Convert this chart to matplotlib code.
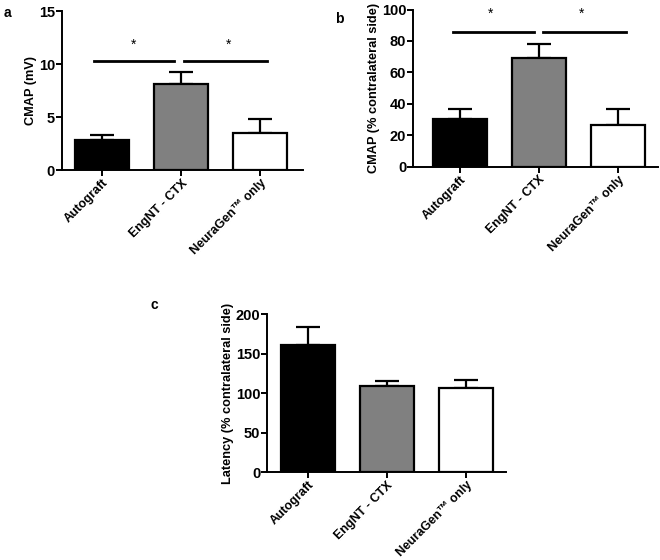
import matplotlib
matplotlib.use('Agg')
import matplotlib.pyplot as plt

plt.rcParams['font.family'] = ['Liberation Sans', 'DejaVu Sans']
plt.rcParams['font.weight'] = 'bold'

groups = ['Autograft', 'EngNT - CTX', 'NeuraGen\u2122 only']
colors = ['black', 'gray', 'white']

cmap_mv = [2.83, 8.11, 3.55]
cmap_mv_err = [0.54, 1.14, 1.32]

cmap_pct = [30.5, 69.5, 26.5]
cmap_pct_err = [6.4, 8.6, 10.4]

latency_pct = [161, 108.4, 106.3]
latency_pct_err = [22.5, 6.8, 10.5]

fig = plt.figure(figsize=(6.6, 5.6), dpi=100)


def bar_panel(rect, vals, errs, ylabel, ylim, yticks, xlim):
    ax = fig.add_axes(rect)
    x = range(len(vals))
    ax.bar(x, vals, width=0.68, color=colors, edgecolor='black', linewidth=1.6, zorder=2)
    ax.errorbar(x, vals, yerr=[[0] * len(errs), errs], fmt='none', ecolor='black',
                elinewidth=1.6, capsize=8.5, capthick=1.6, zorder=1)
    ax.set_xlim(*xlim)
    ax.set_ylim(*ylim)
    ax.set_yticks(yticks)
    ax.set_xticks(list(x))
    ax.set_xticklabels(groups, rotation=45, ha='right', rotation_mode='anchor', fontsize=9)
    ax.set_ylabel(ylabel, fontsize=9.2, fontweight='bold', labelpad=1)
    for s in ['top', 'right']:
        ax.spines[s].set_visible(False)
    for s in ['left', 'bottom']:
        ax.spines[s].set_linewidth(1.4)
    ax.tick_params(width=1.4, length=4, pad=1)
    ax.tick_params(axis='y', labelsize=10.5)
    return ax


# a
ax_a = bar_panel([0.094, 0.696, 0.365, 0.284], cmap_mv, cmap_mv_err, 'CMAP (mV)',
                 (0, 15), [0, 5, 10, 15], (-0.51, 2.54))
ax_a.plot([-0.11, 0.91], [10.3, 10.3], color='black', lw=2, clip_on=False)
ax_a.plot([1.03, 2.09], [10.3, 10.3], color='black', lw=2, clip_on=False)
ax_a.text(0.39, 11.8, '*', ha='center', va='center', fontsize=10, fontweight='normal')
ax_a.text(1.6, 11.8, '*', ha='center', va='center', fontsize=10, fontweight='normal')

# b
ax_b = bar_panel([0.626, 0.702, 0.371, 0.281], cmap_pct, cmap_pct_err, 'CMAP (% contralateral side)',
                 (0, 100), [0, 20, 40, 60, 80, 100], (-0.59, 2.51))
ax_b.plot([-0.08, 0.94], [85.4, 85.4], color='black', lw=2, clip_on=False)
ax_b.plot([1.05, 2.1], [85.4, 85.4], color='black', lw=2, clip_on=False)
ax_b.text(0.39, 97, '*', ha='center', va='center', fontsize=10, fontweight='normal')
ax_b.text(1.54, 97, '*', ha='center', va='center', fontsize=10, fontweight='normal')

# c
ax_c = bar_panel([0.405, 0.157, 0.362, 0.282], latency_pct, latency_pct_err,
                 'Latency (% contralateral side)', (0, 200), [0, 50, 100, 150, 200], (-0.51, 2.51))

fig.text(0.005, 0.99, 'a', fontsize=10, fontweight='bold', va='top')
fig.text(0.508, 0.978, 'b', fontsize=10, fontweight='bold', va='top')
fig.text(0.228, 0.468, 'c', fontsize=10, fontweight='bold', va='top')

fig.savefig('out.png', dpi=100)
